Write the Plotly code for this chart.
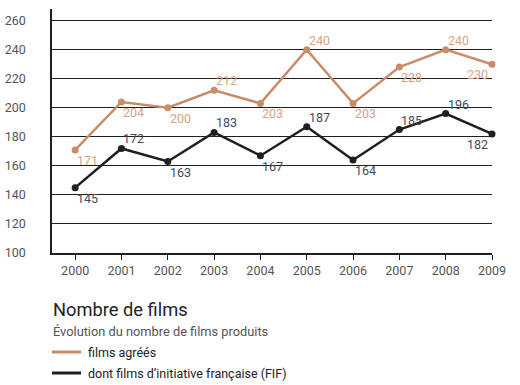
import plotly.graph_objects as go

years = [2000, 2001, 2002, 2003, 2004, 2005, 2006, 2007, 2008, 2009]
films_agrees = [171, 204, 200, 212, 203, 240, 203, 228, 240, 230]
films_fif = [145, 172, 163, 183, 167, 187, 164, 185, 196, 182]
pos_agrees = ["bottom right", "bottom right", "bottom right", "top right", "bottom right",
              "top right", "bottom right", "bottom right", "top right", "bottom left"]
pos_fif = ["bottom right", "top right", "bottom right", "top right", "bottom right",
           "top right", "bottom right", "top right", "top right", "bottom left"]
y_ticks = [100, 120, 140, 160, 180, 200, 220, 240, 260]

title = "Nombre de films"
subtitle = "Évolution du nombre de films produits"
legend_names = ["films agréés", "dont films d’initiative française (FIF)"]

ORANGE = "#c98b68"
ORANGE_TXT = "#d9a283"
BLACK = "#1f1f1f"
BLACK_TXT = "#414a5c"
FONT = "Roboto"

W, H = 520, 385
L, R, T, B = 52, 28, 9, 132
plot_h = H - T - B


def py(px):
    return (H - B - px) / plot_h


def pxx(px):
    return (px - L) / (W - L - R)


fig = go.Figure()
for vals, color, positions, tcolor in [(films_agrees, ORANGE, pos_agrees, ORANGE_TXT),
                                       (films_fif, BLACK, pos_fif, BLACK_TXT)]:
    fig.add_trace(go.Scatter(
        x=years, y=vals, mode="lines+markers",
        line=dict(color=color, width=2.5), marker=dict(color=color, size=7),
        cliponaxis=False, showlegend=False, hoverinfo="x+y"))
    for xv, yv, p in zip(years, vals, positions):
        vert, horiz = p.split()
        fig.add_annotation(
            x=xv, y=yv, text=str(yv), showarrow=False,
            xanchor="left" if horiz == "right" else "right",
            yanchor="top" if vert == "bottom" else "bottom",
            xshift=0 if horiz == "right" else -2,
            yshift=-1 if vert == "bottom" else 0,
            font=dict(family=FONT, size=12.5, color=tcolor))

fig.update_layout(
    width=W, height=H, margin=dict(l=L, r=R, t=T, b=B),
    paper_bgcolor="white", plot_bgcolor="white",
    font=dict(family=FONT, size=12, color="#555555"),
    xaxis=dict(range=[1999.5, 2009], tickvals=years, ticktext=[str(y) for y in years],
               showgrid=False, zeroline=False, showline=True, linecolor=BLACK, linewidth=1.5,
               ticks="outside", ticklen=5, tickcolor=BLACK, tickwidth=1.2, automargin=False,
               tickfont=dict(family=FONT, size=12.5, color="#555555")),
    yaxis=dict(range=[100, 268], tickvals=y_ticks, showgrid=True, gridcolor=BLACK, gridwidth=1.2,
               zeroline=False, showline=True, linecolor=BLACK, linewidth=1.5,
               ticks="", ticklabelstandoff=22, automargin=False,
               tickfont=dict(family=FONT, size=12.5, color="#555555")),
)

fig.add_annotation(text=title, xref="paper", yref="paper", x=pxx(51), y=py(309),
                   xanchor="left", yanchor="middle", showarrow=False,
                   font=dict(family=FONT, size=18.3, color="#222222"))
fig.add_annotation(text=subtitle, xref="paper", yref="paper", x=pxx(51), y=py(331),
                   xanchor="left", yanchor="middle", showarrow=False,
                   font=dict(family=FONT, size=12.8, color="#555555"))
for name, color, ypx in [(legend_names[0], ORANGE, 352), (legend_names[1], BLACK, 373)]:
    fig.add_shape(type="line", xref="paper", yref="paper", x0=pxx(52), x1=pxx(81),
                  y0=py(ypx), y1=py(ypx), line=dict(color=color, width=3))
    fig.add_annotation(text=name, xref="paper", yref="paper", x=pxx(86), y=py(ypx),
                       xanchor="left", yanchor="middle", showarrow=False,
                       font=dict(family=FONT, size=12.5, color="#222222"))

fig.write_html("out.html", config={"displayModeBar": False},
               post_script="document.body.style.margin='0';")
